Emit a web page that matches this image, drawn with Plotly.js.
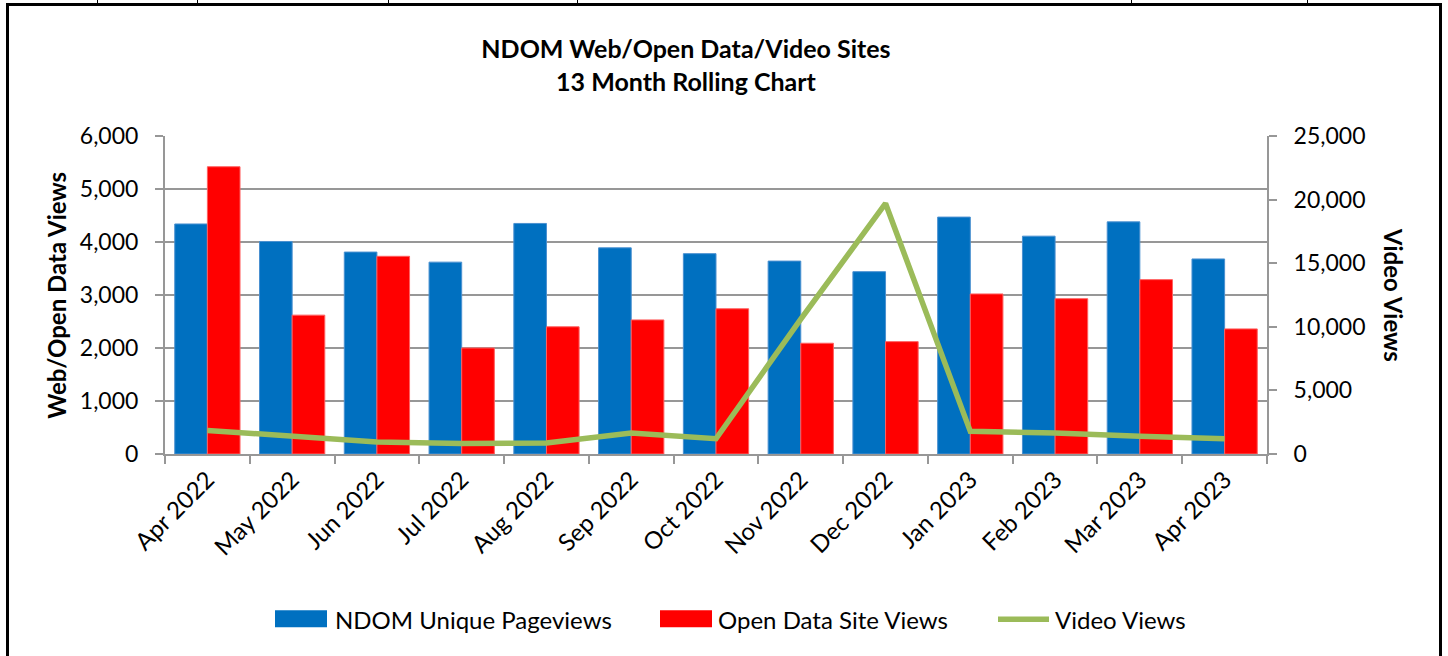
<!DOCTYPE html>
<html>
<head>
<meta charset="utf-8">
<script src="https://cdn.plot.ly/plotly-3.0.1.min.js"></script>
<style>
  html, body { margin: 0; padding: 0; background: #fff; }
  #wrap { position: relative; width: 1448px; height: 656px; overflow: hidden; }
  #chart { position: absolute; left: 0; top: 0; width: 1448px; height: 656px; }
  /* frame of the chart object and the table row above it */
  #frame { position: absolute; left: 6px; top: 3px; width: 1436px; height: 700px;
           border: 3px solid #000; box-sizing: border-box; pointer-events: none; }
  .cell { position: absolute; top: 0; width: 1px; height: 4px; background: #000; }
</style>
</head>
<body>
<div id="wrap">
  <div id="chart"></div>
  <div id="frame"></div>
  <div class="cell" style="left:97px"></div>
  <div class="cell" style="left:197px"></div>
  <div class="cell" style="left:388px"></div>
  <div class="cell" style="left:577px"></div>
  <div class="cell" style="left:1131px"></div>
  <div class="cell" style="left:1307px"></div>
</div>
<script>
// months on the x axis
var months = ['Apr 2022', 'May 2022', 'Jun 2022', 'Jul 2022', 'Aug 2022', 'Sep 2022', 'Oct 2022',
              'Nov 2022', 'Dec 2022', 'Jan 2023', 'Feb 2023', 'Mar 2023', 'Apr 2023'];

// values
var ndomPageviews = [4340, 4010, 3810, 3620, 4350, 3890, 3780, 3640, 3440, 4470, 4110, 4380, 3680];
var openDataViews = [5420, 2620, 3730, 2000, 2400, 2530, 2740, 2090, 2120, 3020, 2930, 3290, 2360];
var videoViews = [1850, 1400, 950, 820, 870, 1650, 1200, 10600, 19700, 1780, 1650, 1400, 1200];

var leftTicks = [0, 1000, 2000, 3000, 4000, 5000, 6000];
var rightTicks = [0, 5000, 10000, 15000, 20000, 25000];

var seriesNames = ['NDOM Unique Pageviews', 'Open Data Site Views', 'Video Views'];
var seriesColors = ['#0070C0', '#FF0000', '#9BBB59'];

var font = 'Lato, "Liberation Sans", sans-serif';
var gridColor = '#979797';

// plot area in pixels, used to place the Excel-style legend below it
var plotL = 165, plotR = 1267, plotT = 136, plotB = 454.5;
function px(x) { return (x - plotL) / (plotR - plotL); }
function py(y) { return (plotB - y) / (plotB - plotT); }

var traceNdom = {
    x: months,
    y: ndomPageviews,
    name: seriesNames[0],
    type: 'bar',
    marker: { color: seriesColors[0], line: { color: '#4a90d0', width: 1 } }
};

var traceOpen = {
    x: months,
    y: openDataViews,
    name: seriesNames[1],
    type: 'bar',
    marker: { color: seriesColors[1], line: { color: '#ff6060', width: 1 } }
};

var traceVideo = {
    x: months,
    y: videoViews,
    name: seriesNames[2],
    type: 'scatter',
    mode: 'lines',
    yaxis: 'y2',
    line: { color: seriesColors[2], width: 5.5 }
};

// legend: wide swatches like the spreadsheet one
var legendY = 620;
var legendShapes = [
    { type: 'rect', xref: 'paper', yref: 'paper', x0: px(275), x1: px(327), y0: py(628), y1: py(611),
      fillcolor: seriesColors[0], line: { width: 0 } },
    { type: 'rect', xref: 'paper', yref: 'paper', x0: px(660), x1: px(712), y0: py(628), y1: py(611),
      fillcolor: seriesColors[1], line: { width: 0 } },
    { type: 'line', xref: 'paper', yref: 'paper', x0: px(998), x1: px(1049), y0: py(legendY), y1: py(legendY),
      line: { color: seriesColors[2], width: 5.5 } }
];
var legendTextX = [333, 716, 1053];
var legendLabels = seriesNames.map(function (name, i) {
    return {
        text: name,
        xref: 'paper', yref: 'paper',
        x: px(legendTextX[i]), y: py(legendY),
        xanchor: 'left', yanchor: 'middle',
        showarrow: false,
        font: { family: font, size: 24, color: '#000' }
    };
});

var layout = {
    width: 1448,
    height: 656,
    margin: { l: plotL, r: 1448 - plotR, t: plotT, b: 656 - plotB, pad: 0 },
    paper_bgcolor: 'rgba(0,0,0,0)',
    plot_bgcolor: '#fff',
    font: { family: font, size: 22, color: '#000' },
    title: {
        text: '<b>NDOM Web/Open Data/Video Sites<br>13 Month Rolling Chart</b>',
        font: { family: font, size: 25, color: '#000' },
        x: 686 / 1448,
        xref: 'container',
        xanchor: 'center',
        y: 1 - 58 / 656,
        yref: 'container',
        yanchor: 'middle'
    },
    barmode: 'group',
    bargap: 0.23,
    bargroupgap: 0,
    showlegend: false,
    xaxis: {
        type: 'category',
        tickangle: -45,
        tickfont: { family: font, size: 24 },
        showline: true,
        linecolor: gridColor,
        linewidth: 2,
        ticks: 'outside',
        tickson: 'boundaries',
        ticklen: 8,
        tickwidth: 2,
        tickcolor: gridColor,
        showgrid: false,
        fixedrange: true
    },
    yaxis: {
        range: [0, 6000],
        tickvals: leftTicks,
        tickformat: ',d',
        tickfont: { family: font, size: 23 },
        showline: true,
        linecolor: gridColor,
        linewidth: 2,
        ticks: 'outside',
        ticklen: 8,
        tickwidth: 2,
        tickcolor: gridColor,
        ticklabelstandoff: 12,
        showgrid: true,
        gridcolor: gridColor,
        gridwidth: 2,
        zeroline: false,
        fixedrange: true
    },
    yaxis2: {
        overlaying: 'y',
        side: 'right',
        range: [0, 25000],
        tickvals: rightTicks,
        tickformat: ',d',
        tickfont: { family: font, size: 23 },
        showline: true,
        linecolor: gridColor,
        linewidth: 2,
        ticks: 'outside',
        ticklen: 8,
        tickwidth: 2,
        tickcolor: gridColor,
        ticklabelstandoff: 12,
        showgrid: false,
        zeroline: false,
        fixedrange: true
    },
    shapes: legendShapes,
    annotations: [
        {
            text: '<b>Web/Open Data Views</b>',
            xref: 'paper', yref: 'paper',
            x: px(57), y: py(296),
            xanchor: 'center', yanchor: 'middle',
            textangle: -90,
            showarrow: false,
            font: { family: font, size: 24, color: '#000' }
        },
        {
            text: '<b>Video Views</b>',
            xref: 'paper', yref: 'paper',
            x: px(1393), y: py(295),
            xanchor: 'center', yanchor: 'middle',
            textangle: 90,
            showarrow: false,
            font: { family: font, size: 24, color: '#000' }
        }
    ].concat(legendLabels)
};

Plotly.newPlot('chart', [traceNdom, traceOpen, traceVideo], layout, { displayModeBar: false, staticPlot: true });
</script>
</body>
</html>
